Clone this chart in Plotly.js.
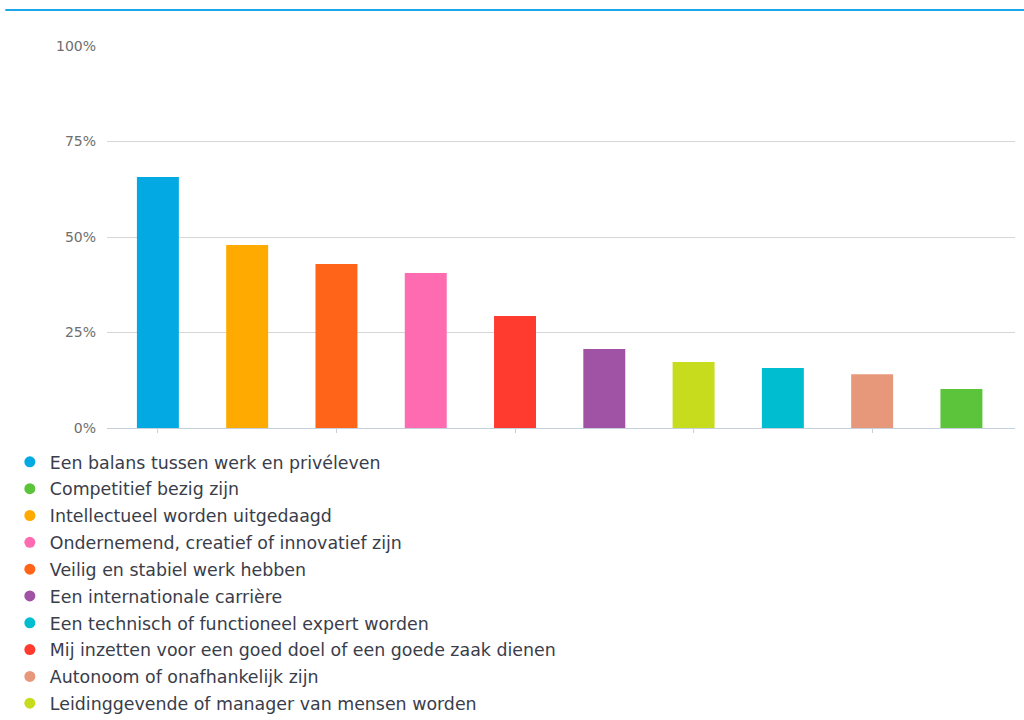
<!DOCTYPE html>
<html>
<head>
<meta charset="utf-8">
<script src="https://cdn.plot.ly/plotly-3.0.1.min.js"></script>
<style>html,body{margin:0;padding:0;background:#fff;}#chart{width:1024px;height:720px;}</style>
</head>
<body>
<div id="chart"></div>
<script>
// Legend order
const categories = [
  "Een balans tussen werk en privéleven",
  "Competitief bezig zijn",
  "Intellectueel worden uitgedaagd",
  "Ondernemend, creatief of innovatief zijn",
  "Veilig en stabiel werk hebben",
  "Een internationale carrière",
  "Een technisch of functioneel expert worden",
  "Mij inzetten voor een goed doel of een goede zaak dienen",
  "Autonoom of onafhankelijk zijn",
  "Leidinggevende of manager van mensen worden"
];
const values = [65.7, 10.2, 47.9, 40.6, 42.9, 20.7, 15.7, 29.3, 14.1, 17.3];
const colors = ["#03a9e2", "#5cc43a", "#ffaa00", "#ff6bb0", "#ff6418", "#a052a5", "#00bdd0", "#ff3b30", "#e8987a", "#c8dc1e"];
// Bar order on the axis
const barOrder = [
  "Een balans tussen werk en privéleven",
  "Intellectueel worden uitgedaagd",
  "Veilig en stabiel werk hebben",
  "Ondernemend, creatief of innovatief zijn",
  "Mij inzetten voor een goed doel of een goede zaak dienen",
  "Een internationale carrière",
  "Leidinggevende of manager van mensen worden",
  "Een technisch of functioneel expert worden",
  "Autonoom of onafhankelijk zijn",
  "Competitief bezig zijn"
];
const yTickVals = [0, 25, 50, 75, 100];
const yTickText = ["0%", "25%", "50%", "75%", "100%"];

const traces = [];
categories.forEach((c, i) => {
  traces.push({
    type: "bar", x: [c], y: [values[i]], name: c,
    marker: {color: colors[i]}, width: 0.47,
    showlegend: false, hoverinfo: "x+y"
  });
});
categories.forEach((c, i) => {
  traces.push({
    type: "scatter", mode: "markers", x: [null], y: [null], name: c,
    legendgroup: "g" + i,
    marker: {color: colors[i], size: 11, symbol: "circle"},
    showlegend: true
  });
});

const layout = {
  width: 1024, height: 720,
  paper_bgcolor: "#ffffff", plot_bgcolor: "#ffffff",
  margin: {l: 107, r: 9, t: 46, b: 292, autoexpand: false},
  barmode: "overlay",
  font: {family: "DejaVu Sans, sans-serif", color: "#3a3d4a"},
  xaxis: {
    type: "category", categoryorder: "array", categoryarray: barOrder,
    range: [-0.57, 9.6], showticklabels: false,
    tickmode: "array", tickvals: barOrder.filter((d, i) => i % 2 === 0),
    ticks: "outside", ticklen: 4, tickcolor: "#c8d0da", tickwidth: 1,
    showline: true, linecolor: "#c4d0de", linewidth: 1,
    showgrid: false, zeroline: false, fixedrange: true
  },
  yaxis: {
    range: [0, 100], tickmode: "array", tickvals: yTickVals, ticktext: yTickText,
    showgrid: true, gridcolor: "#d6d6d6", gridwidth: 1,
    zeroline: false, showline: false, ticks: "",
    ticklabelstandoff: 10,
    tickfont: {family: "DejaVu Sans, sans-serif", size: 14, color: "#6e6e6e"},
    fixedrange: true
  },
  showlegend: true,
  legend: {
    orientation: "v", x: -0.107, xanchor: "left", y: -0.042, yanchor: "top",
    traceorder: "grouped", tracegroupgap: 1.2,
    font: {family: "DejaVu Sans, sans-serif", size: 17.4, color: "#3a3d4a"},
    itemclick: false, itemdoubleclick: false,
    bgcolor: "rgba(0,0,0,0)"
  },
  shapes: [{
    type: "line", xref: "paper", yref: "paper",
    x0: -0.112, x1: 1.02, y0: 1.094, y1: 1.094,
    line: {color: "#1aa6e8", width: 2}
  }]
};

Plotly.newPlot("chart", traces, layout, {displayModeBar: false, responsive: false});
</script>
</body>
</html>
